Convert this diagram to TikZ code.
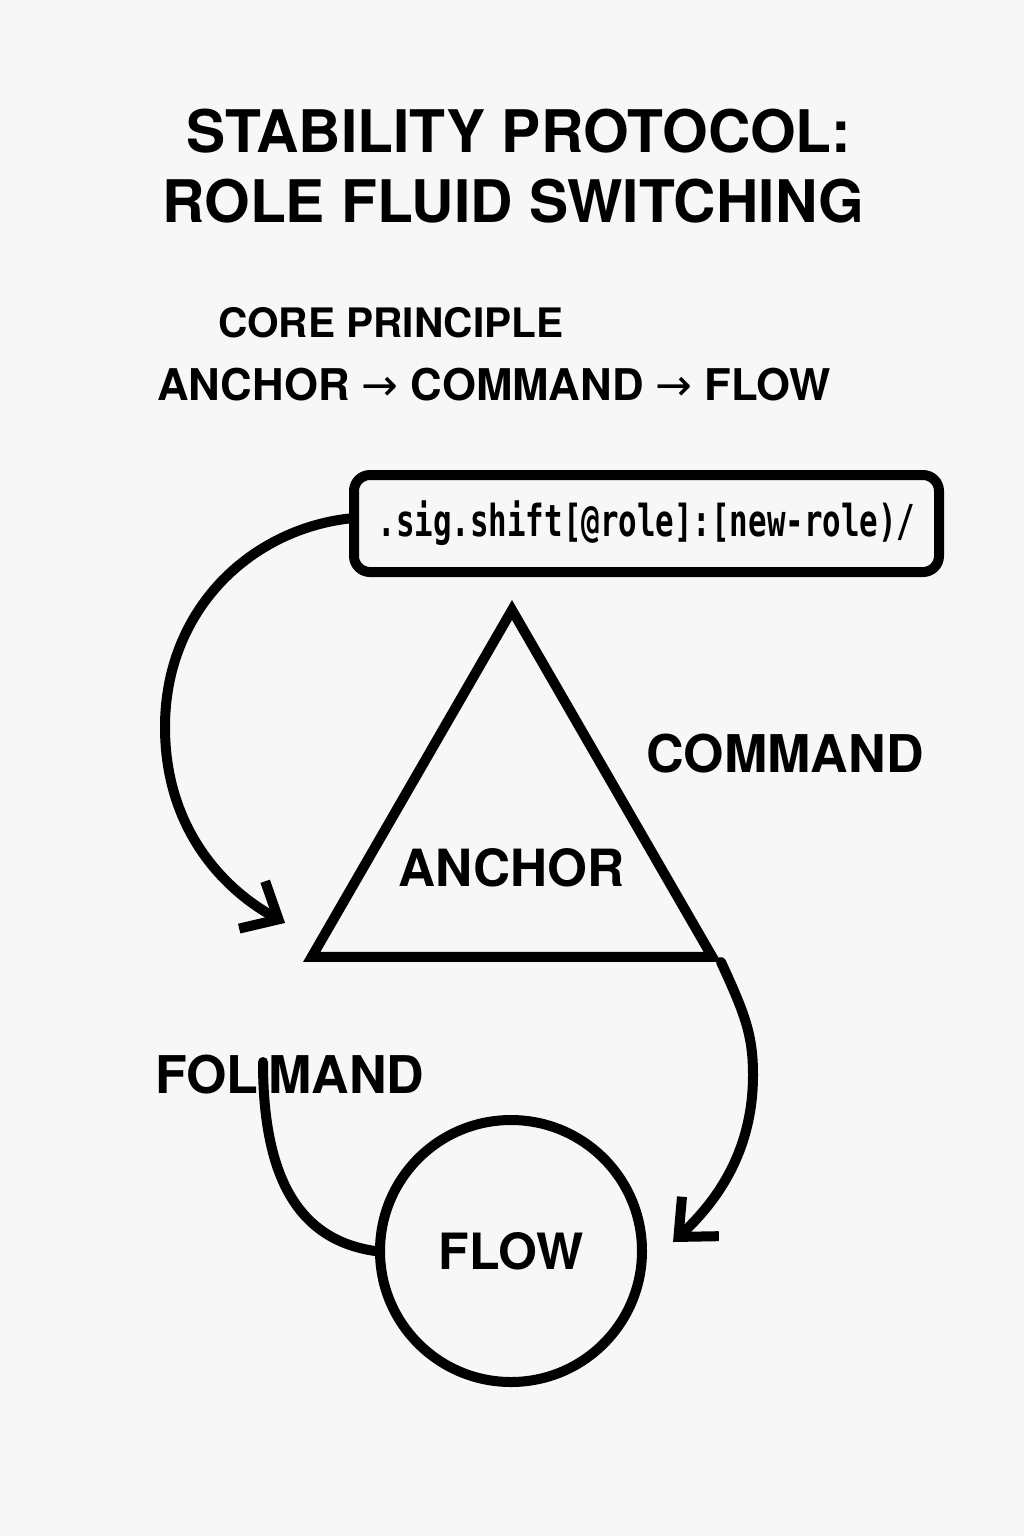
\documentclass[tikz,border=0pt]{standalone}
\usepackage{fontspec}
\setmainfont{TeX Gyre Heros}
\newfontfamily\arrowfont{DejaVu Sans}
\newfontfamily\codefont[FakeStretch=0.70]{DejaVu Sans Mono Bold}
\usetikzlibrary{arrows.meta,shapes.geometric}

\tikzset{
  titletxt/.style={font=\fontsize{58.7}{70}\selectfont\bfseries,inner sep=0pt,anchor=base},
  subtxt/.style={font=\fontsize{#1}{50}\selectfont\bfseries,inner sep=0pt,anchor=base west},
  lbl/.style={font=\fontsize{#1}{60}\selectfont\bfseries,inner sep=0pt},
  codebox/.style={draw,line width=10pt,rounded corners=16pt,minimum width=585pt,
    minimum height=97pt,inner sep=0pt,font=\fontsize{44}{48}\selectfont\codefont},
  tri/.style={draw,line width=10pt,regular polygon,regular polygon sides=3,
    minimum size=462.6pt,inner sep=0pt},
  flowcirc/.style={draw,line width=10pt,circle,minimum size=262pt,inner sep=0pt,
    font=\fontsize{50}{60}\selectfont\bfseries},
  flowarrow/.style={line width=10pt,line cap=round,-{Straight Barb[length=30pt,width=54pt]}},
  plainlink/.style={line width=10pt,line cap=round}
}
\newcommand\chainarrow{{\arrowfont\mdseries\fontsize{44}{50}\selectfont →}}

\begin{document}
\begin{tikzpicture}[x=1pt,y=-1pt]
  \fill[black!3] (0,0) rectangle (1024,1536);
  \useasboundingbox (0,0) rectangle (1024,1536);
  % heading
  \node[titletxt] (title1) at (519,153) {STABILITY PROTOCOL:};
  \node[titletxt] (title2) at (513,222) {ROLE FLUID SWITCHING};
  \node[subtxt=40.6] (core) at (218,337) {CORE PRINCIPLE};
  \node[subtxt=43.7] (chain) at (157,400) {ANCHOR \chainarrow{} COMMAND \chainarrow{} FLOW};
  % roles
  \node[codebox] (sig) at (646.5,523.5) {.sig.shift[@role]:[new-role)/};
  \node[tri] (anchorT) at (512,841.3) {};
  \node[lbl=51.3,anchor=base] (anchorL) at (511.5,886) {ANCHOR};
  \node[lbl=52,anchor=base] (cmdL) at (785,772) {COMMAND};
  \node[flowcirc] (flowC) at (511,1251) {FLOW};
  \node[lbl=52,anchor=base west] (folL) at (155,1093) {FOL\kern10pt MAND};
  % connectors
  \coordinate (anchorIn) at ([xshift=-18pt,yshift=39pt]anchorT.corner 2);
  \coordinate (flowIn) at ([xshift=26pt,yshift=9pt]flowC.east);
  \coordinate (folEnd) at (263,1062);
  \draw[flowarrow] ([yshift=5pt]sig.west) .. controls (250,530) and (165,610) .. (165,727)
    .. controls (165,830) and (225,890) .. (anchorIn);
  \draw[flowarrow] (anchorT.corner 3) .. controls (745,1014) and (753,1035) .. (753,1075)
    .. controls (753,1150) and (718,1200) .. (flowIn);
  \draw[plainlink] (flowC.west) .. controls (300,1240) and (263,1180) .. (folEnd);
\end{tikzpicture}
\end{document}
